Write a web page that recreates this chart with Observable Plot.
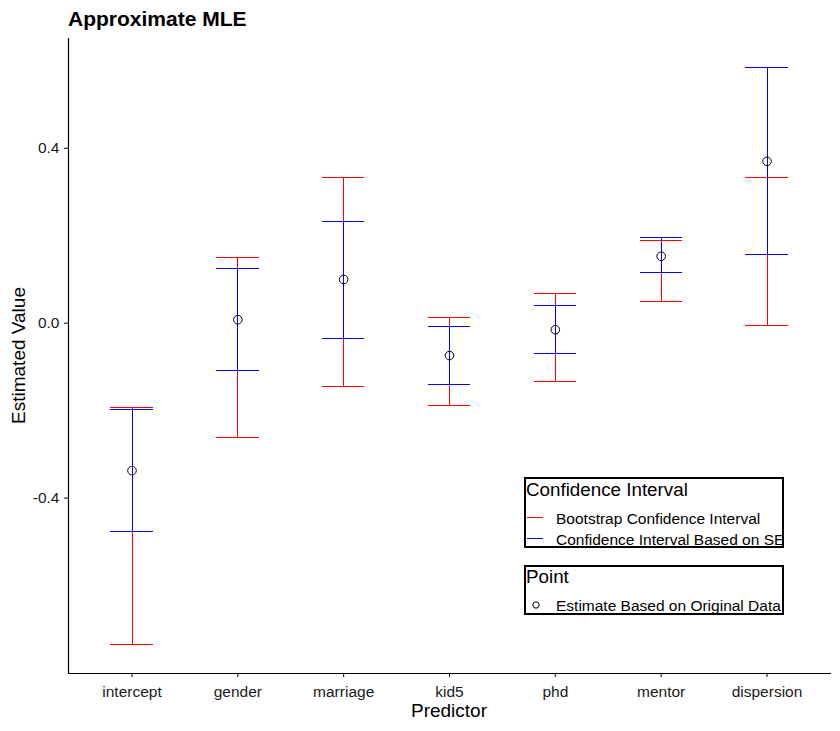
<!DOCTYPE html>
<html>
<head>
<meta charset="utf-8">
<script src="https://cdn.jsdelivr.net/npm/d3@7"></script>
<script src="https://cdn.jsdelivr.net/npm/@observablehq/plot@0.6"></script>
<style>
  html, body { margin: 0; padding: 0; background: white; }
  #chart { position: relative; width: 840px; height: 731px; }
</style>
</head>
<body>
<div id="chart"></div>
<script>
const predictors = ["intercept", "gender", "marriage", "kid5", "phd", "mentor", "dispersion"];
const estimate   = [-0.337, 0.008, 0.100, -0.074, -0.015, 0.153, 0.370];
const bootLower  = [-0.735, -0.261, -0.145, -0.188, -0.133, 0.050, -0.005];
const bootUpper  = [-0.193, 0.150, 0.334, 0.013, 0.068, 0.190, 0.334];
const seLower    = [-0.476, -0.108, -0.035, -0.140, -0.069, 0.117, 0.158];
const seUpper    = [-0.197, 0.125, 0.232, -0.008, 0.040, 0.197, 0.585];
const yTicks     = [-0.4, 0.0, 0.4];

const rows = predictors.map((p, i) => ({
  predictor: p, estimate: estimate[i],
  bootLower: bootLower[i], bootUpper: bootUpper[i],
  seLower: seLower[i], seUpper: seUpper[i]
}));

const all = [...bootLower, ...bootUpper, ...seLower, ...seUpper, ...estimate];
const [lo, hi] = d3.extent(all);
const pad = (hi - lo) * 0.05;
const yDomain = [lo - pad, hi + pad];

const W = 840, H = 731;
const mT = 38, mR = 10, mB = 58, mL = 68;
const font = "'Liberation Sans', Arial, sans-serif";
const capInset = 0.3 * (W - mL - mR) / 7.2;
const lw = 1;
const crisp = { shapeRendering: "crispEdges" };

const plot = Plot.plot({
  width: W, height: H,
  marginTop: mT, marginRight: mR, marginBottom: mB, marginLeft: mL,
  style: { fontFamily: font, fontSize: "15.5px", color: "#1a1a1a", background: "white", overflow: "visible" },
  x: { type: "band", domain: predictors, paddingInner: 0, paddingOuter: 0.1, round: false, label: null },
  y: { domain: yDomain, label: null },
  marks: [
    Plot.frame({ anchor: "left", stroke: "black", strokeWidth: 1.2 }),
    Plot.frame({ anchor: "bottom", stroke: "black", strokeWidth: 1.2 }),
    Plot.axisX({ tickSize: 4, tickPadding: 8, label: null, stroke: "black" }),
    Plot.axisY({ ticks: yTicks, tickFormat: d => d.toFixed(1), tickSize: 4, tickPadding: 5, label: null, stroke: "black" }),
    Plot.ruleX(rows, { x: "predictor", y1: "bootLower", y2: "bootUpper", stroke: "#FF0000", strokeWidth: lw, ...crisp }),
    Plot.tickY(rows, { x: "predictor", y: "bootLower", stroke: "#FF0000", strokeWidth: lw, insetLeft: capInset, insetRight: capInset, ...crisp }),
    Plot.tickY(rows, { x: "predictor", y: "bootUpper", stroke: "#FF0000", strokeWidth: lw, insetLeft: capInset, insetRight: capInset, ...crisp }),
    Plot.ruleX(rows, { x: "predictor", y1: "seLower", y2: "seUpper", stroke: "#0000FF", strokeWidth: lw, ...crisp }),
    Plot.tickY(rows, { x: "predictor", y: "seLower", stroke: "#0000FF", strokeWidth: lw, insetLeft: capInset, insetRight: capInset, ...crisp }),
    Plot.tickY(rows, { x: "predictor", y: "seUpper", stroke: "#0000FF", strokeWidth: lw, insetLeft: capInset, insetRight: capInset, ...crisp }),
    Plot.dot(rows, { x: "predictor", y: "estimate", r: 4.3, stroke: "black", fill: "none", strokeWidth: 1 })
  ]
});

document.getElementById("chart").appendChild(plot);

const svg = d3.select(plot);
// Title
svg.append("text").attr("x", 68).attr("y", 26).attr("text-anchor", "start")
  .attr("font-family", font).attr("font-size", 21).attr("font-weight", "bold").attr("fill", "black")
  .text("Approximate MLE");
// Axis titles
svg.append("text").attr("x", (mL + W - mR) / 2).attr("y", 717)
  .attr("text-anchor", "middle").attr("font-family", font).attr("font-size", 19).attr("fill", "black")
  .text("Predictor");
svg.append("text").attr("transform", `translate(25,${(mT + H - mB) / 2}) rotate(-90)`)
  .attr("text-anchor", "middle").attr("font-family", font).attr("font-size", 19).attr("fill", "black")
  .text("Estimated Value");

// Legend
const defs = svg.append("defs");
defs.append("clipPath").attr("id", "clipA").append("rect").attr("x", 525).attr("y", 478).attr("width", 258).attr("height", 69);
defs.append("clipPath").attr("id", "clipB").append("rect").attr("x", 525).attr("y", 566).attr("width", 258).attr("height", 48);

const gA = svg.append("g").attr("font-family", font).attr("fill", "black").attr("text-anchor", "start");
gA.append("rect").attr("x", 525).attr("y", 478).attr("width", 258).attr("height", 69).attr("fill", "white");
const gAc = gA.append("g").attr("clip-path", "url(#clipA)");
gAc.append("text").attr("x", 526).attr("y", 496).attr("font-size", 18.8).text("Confidence Interval");
gAc.append("line").attr("x1", 527).attr("x2", 543).attr("y1", 517).attr("y2", 517).attr("stroke", "#FF0000").attr("stroke-width", 1).attr("shape-rendering", "crispEdges");
gAc.append("text").attr("x", 556).attr("y", 524).attr("font-size", 15.5).text("Bootstrap Confidence Interval");
gAc.append("line").attr("x1", 527).attr("x2", 543).attr("y1", 538).attr("y2", 538).attr("stroke", "#0000FF").attr("stroke-width", 1).attr("shape-rendering", "crispEdges");
gAc.append("text").attr("x", 556).attr("y", 544.5).attr("font-size", 15.5).text("Confidence Interval Based on SE");
gA.append("rect").attr("x", 525).attr("y", 478).attr("width", 258).attr("height", 69).attr("fill", "none").attr("stroke", "black").attr("stroke-width", 2);

const gB = svg.append("g").attr("font-family", font).attr("fill", "black").attr("text-anchor", "start");
gB.append("rect").attr("x", 525).attr("y", 566).attr("width", 258).attr("height", 48).attr("fill", "white");
const gBc = gB.append("g").attr("clip-path", "url(#clipB)");
gBc.append("text").attr("x", 526).attr("y", 583).attr("font-size", 18.8).text("Point");
gBc.append("circle").attr("cx", 536).attr("cy", 605).attr("r", 3.2).attr("fill", "none").attr("stroke", "black").attr("stroke-width", 1);
gBc.append("text").attr("x", 556).attr("y", 611).attr("font-size", 15.5).text("Estimate Based on Original Data");
gB.append("rect").attr("x", 525).attr("y", 566).attr("width", 258).attr("height", 48).attr("fill", "none").attr("stroke", "black").attr("stroke-width", 2);
</script>
</body>
</html>
